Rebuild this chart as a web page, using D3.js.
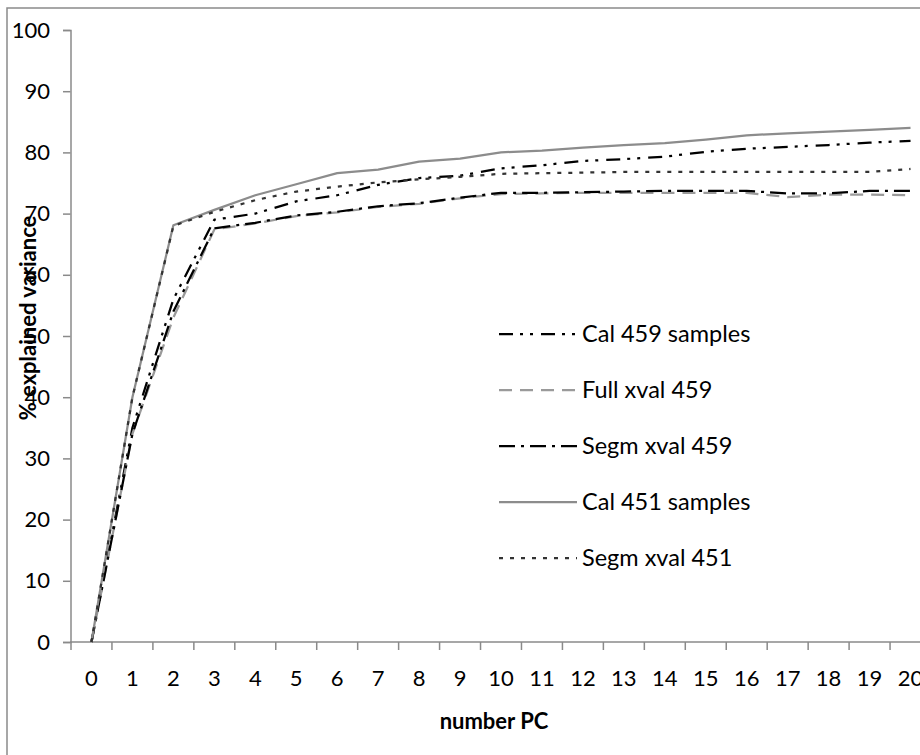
<!DOCTYPE html>
<html>
<head>
<meta charset="utf-8">
<script src="https://cdn.jsdelivr.net/npm/d3@7"></script>
<style>
  html, body { margin: 0; padding: 0; background: #fff; }
  svg { display: block; font-family: Lato, "Open Sans", sans-serif; }
</style>
</head>
<body>
<svg id="chart" width="920" height="755"></svg>
<script>
// Number of principal components on the x axis
const components = d3.range(0, 21);
const yTicks = [0, 10, 20, 30, 40, 50, 60, 70, 80, 90, 100];

// % explained variance per series
const cal459   = [0, 35, 56, 69.0, 70.0, 72.0, 73.0, 74.7, 75.8, 76.2, 77.4, 77.9, 78.6, 78.9, 79.3, 80.1, 80.6, 80.9, 81.2, 81.6, 81.9];
const full459  = [0, 34, 53, 67.4, 68.4, 69.6, 70.2, 71.1, 71.6, 72.5, 73.2, 73.3, 73.4, 73.4, 73.4, 73.4, 73.4, 72.7, 73.1, 73.1, 73.0];
const segm459  = [0, 34, 54, 67.6, 68.5, 69.7, 70.3, 71.2, 71.7, 72.6, 73.4, 73.4, 73.5, 73.6, 73.7, 73.7, 73.7, 73.3, 73.3, 73.7, 73.7];
const cal451   = [0, 40, 68.1, 70.6, 73.0, 74.8, 76.6, 77.2, 78.5, 79.0, 80.0, 80.3, 80.8, 81.2, 81.5, 82.1, 82.8, 83.1, 83.4, 83.7, 84.0];
const segm451  = [0, 40, 68.0, 70.3, 72.2, 73.6, 74.4, 75.1, 75.6, 76.0, 76.5, 76.6, 76.7, 76.8, 76.8, 76.8, 76.8, 76.8, 76.8, 76.8, 77.3];

const seriesNames = ["Cal 459 samples", "Full xval 459", "Segm xval 459", "Cal 451 samples", "Segm xval 451"];

const series = [
  { name: seriesNames[0], values: cal459,  color: "#000000", dash: "14,7,3,7,3,8" },
  { name: seriesNames[1], values: full459, color: "#9a9a9a", dash: "13,8" },
  { name: seriesNames[2], values: segm459, color: "#000000", dash: "16,6,3,6" },
  { name: seriesNames[3], values: cal451,  color: "#8c8c8c", dash: null },
  { name: seriesNames[4], values: segm451, color: "#333333", dash: "4,7" }
];

const svg = d3.select("#chart");
const axisColor = "#8a8a8a";

// chart frame (runs off the right and bottom edges)
svg.append("rect")
  .attr("x", 7).attr("y", 8)
  .attr("width", 1000).attr("height", 800)
  .attr("fill", "none")
  .attr("stroke", axisColor)
  .attr("stroke-width", 1.5);

const x = d3.scaleBand().domain(components).range([71, 931]);
const y = d3.scaleLinear().domain([0, 100]).range([642, 30]);

// y axis
const yAxis = svg.append("g")
  .attr("transform", "translate(70.5,0)")
  .call(d3.axisLeft(y).tickValues(yTicks).tickSize(7.5).tickPadding(13).tickFormat(d3.format("d")));
yAxis.select(".domain").attr("stroke", axisColor).attr("stroke-width", 1.5);
yAxis.selectAll(".tick line").attr("stroke", axisColor).attr("stroke-width", 1.5);
yAxis.selectAll(".tick text")
  .attr("font-family", "Lato, sans-serif")
  .attr("font-size", 22)
  .attr("fill", "#000");

// x axis line and category boundary ticks
svg.append("line")
  .attr("x1", 70).attr("x2", 931)
  .attr("y1", y(0)).attr("y2", y(0))
  .attr("stroke", axisColor).attr("stroke-width", 1.5);

svg.append("g").selectAll("line")
  .data(components.concat([components.length]))
  .join("line")
  .attr("x1", d => d < components.length ? x(d) : x.range()[1])
  .attr("x2", d => d < components.length ? x(d) : x.range()[1])
  .attr("y1", y(0)).attr("y2", y(0) + 8)
  .attr("stroke", axisColor).attr("stroke-width", 1.5);

// x category labels
const xAxis = svg.append("g")
  .attr("transform", `translate(0,${y(0)})`)
  .call(d3.axisBottom(x).tickSize(0).tickPadding(28));
xAxis.select(".domain").remove();
xAxis.selectAll(".tick text")
  .attr("font-family", "Lato, sans-serif")
  .attr("font-size", 22)
  .attr("fill", "#000");

// axis titles
svg.append("text")
  .attr("x", 494).attr("y", 729)
  .attr("text-anchor", "middle")
  .attr("font-size", 22)
  .attr("font-weight", "bold")
  .text("number PC");

svg.append("text")
  .attr("transform", "translate(36,318) rotate(-90)")
  .attr("text-anchor", "middle")
  .attr("font-size", 22)
  .attr("font-weight", "bold")
  .text("% explained variance");

// series lines
const line = d3.line()
  .x((d, i) => x(components[i]) + x.bandwidth() / 2)
  .y(d => y(d));

svg.append("g").selectAll("path")
  .data(series)
  .join("path")
  .attr("d", d => line(d.values))
  .attr("fill", "none")
  .attr("stroke", d => d.color)
  .attr("stroke-width", 2.25)
  .attr("stroke-dasharray", d => d.dash)
  .attr("stroke-linejoin", "round");

// legend
const legend = svg.append("g").selectAll("g")
  .data(series)
  .join("g")
  .attr("transform", (d, i) => `translate(499,${334 + i * 56})`);

legend.append("line")
  .attr("x1", 0).attr("x2", 78)
  .attr("y1", 0).attr("y2", 0)
  .attr("stroke", d => d.color)
  .attr("stroke-width", 2.25)
  .attr("stroke-dasharray", d => d.dash);

legend.append("text")
  .attr("x", 83)
  .attr("dy", "0.35em")
  .attr("font-size", 23.5)
  .text(d => d.name);
</script>
</body>
</html>
